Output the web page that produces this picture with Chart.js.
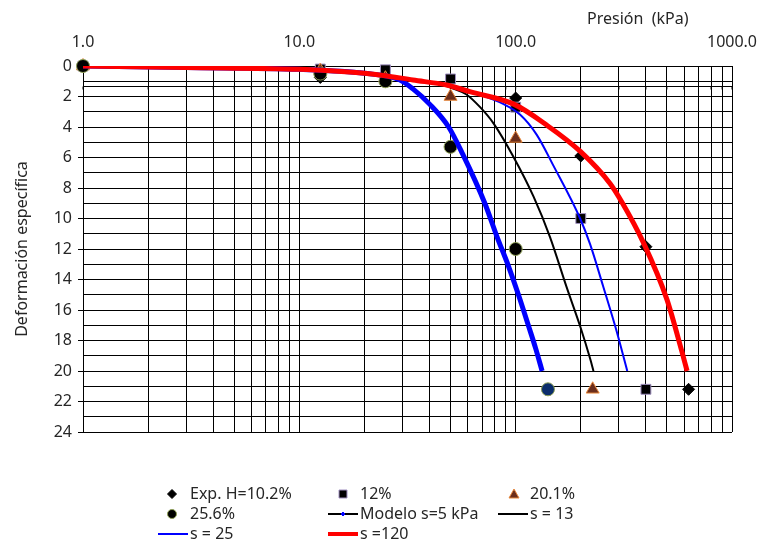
<!DOCTYPE html>
<html>
<head>
<meta charset="utf-8">
<script src="https://cdn.jsdelivr.net/npm/chart.js@4/dist/chart.umd.min.js"></script>
<style>
body { margin: 0; background: #fff; }
</style>
</head>
<body>
<canvas id="chart" width="760" height="545"></canvas>
<script>
// tick values of the log axis (top) and labelled decades
let gridTicks = [1,2,3,4,5,6,7,8,9,10,20,30,40,50,60,70,80,90,100,200,300,400,500,600,700,800,900,1000];
let decadeTicks = [1, 10, 100, 1000];

// experimental points (pressure kPa, specific deformation)
let p102 = [1, 12.5, 100, 200, 400, 630];
let d102 = [0, 0.75, 2.1, 5.9, 11.85, 21.2];
let p12 = [1, 12.5, 25, 50, 100, 200, 400];
let d12 = [0, 0.2, 0.25, 0.85, 2.7, 10.0, 21.2];
let p201 = [1, 12.5, 25, 50, 100, 227];
let d201 = [0, 0.3, 0.8, 2.0, 4.75, 21.2];
let p256 = [1, 12.5, 25, 50, 100, 141];
let d256 = [0, 0.5, 1.0, 5.3, 12.0, 21.2];

// model curves
let pS5 = [1, 3, 10, 20, 29, 33.5, 40, 49, 57, 72, 82, 92.5, 103, 115, 123.6, 132.5];
let dS5 = [0, 0.1, 0.22, 0.48, 0.9, 1.5, 2.5, 4.0, 5.8, 9.0, 11.2, 13.1, 15.0, 17.1, 18.5, 20];
let pS13 = [1, 3, 10, 20, 30, 45, 51, 59, 68.5, 79, 97.6, 121, 144, 172, 199, 221, 229];
let dS13 = [0, 0.1, 0.22, 0.48, 0.8, 1.2, 1.46, 1.85, 2.7, 3.76, 5.95, 8.57, 11.2, 14.5, 17.1, 19.2, 20];
let pS25 = [1, 3, 10, 20, 30, 48, 62, 88, 105, 125, 149, 198.6, 221, 253.7, 291, 328];
let dS25 = [0, 0.1, 0.22, 0.48, 0.8, 1.25, 1.7, 2.5, 3.2, 4.5, 6.5, 10.0, 11.7, 14.44, 17.25, 20];
let pS120 = [1, 3, 10, 15, 20, 24, 33.5, 48, 62, 98, 139, 199, 273, 309, 390, 500, 586, 620];
let dS120 = [0, 0.1, 0.22, 0.35, 0.48, 0.6, 0.92, 1.25, 1.7, 2.5, 3.87, 5.6, 7.7, 8.9, 11.6, 15.3, 18.7, 20];

const FONT = "'Noto Sans', 'DejaVu Sans', sans-serif";
const TXT = '#262626';

function pts(xs, ys) {
return xs.map((x, i) => ({ x: x, y: ys[i] }));
}

function lineSet(label, xs, ys, color, width, order) {
return {
label: label, data: pts(xs, ys), showLine: true, borderColor: color, backgroundColor: color,
borderWidth: width, pointRadius: 0, cubicInterpolationMode: 'monotone', order: order
};
}

function markSet(label, xs, ys, style, fill, edge, radius, order) {
return {
label: label, data: pts(xs, ys), showLine: false, pointStyle: style, pointRadius: radius,
pointBackgroundColor: fill, pointBorderColor: edge, pointBorderWidth: 1, order: order, clip: false
};
}

// markers in legend
function drawMark(ctx, kind, x, y, fill, edge, r) {
ctx.save();
ctx.fillStyle = fill;
ctx.strokeStyle = edge;
ctx.lineWidth = 1;
ctx.beginPath();
if (kind == 'diamond') {
ctx.moveTo(x, y - r); ctx.lineTo(x + r, y); ctx.lineTo(x, y + r); ctx.lineTo(x - r, y);
} else if (kind == 'square') {
ctx.rect(x - 4, y - 4, 8, 8);
} else if (kind == 'triangle') {
ctx.moveTo(x, y - 5); ctx.lineTo(x + 5, y + 4); ctx.lineTo(x - 5, y + 4);
} else {
ctx.arc(x, y, 4.5, 0, Math.PI * 2);
}
ctx.closePath();
ctx.fill();
ctx.stroke();
ctx.restore();
}

function drawLineKey(ctx, x1, x2, y, color, width) {
ctx.save();
ctx.strokeStyle = color;
ctx.lineWidth = width;
ctx.beginPath();
ctx.moveTo(x1, y); ctx.lineTo(x2, y);
ctx.stroke();
ctx.restore();
}

const decor = {
id: 'decor',
beforeDatasetsDraw(chart) {
// second axis line just under the top border
const ctx = chart.ctx, xs = chart.scales.x, ys = chart.scales.y;
const y = Math.round(ys.getPixelForValue(1.3)) + 0.5;
ctx.save();
ctx.strokeStyle = '#000';
ctx.lineWidth = 1;
ctx.beginPath();
ctx.moveTo(chart.chartArea.left, y);
ctx.lineTo(chart.chartArea.right, y);
gridTicks.forEach(v => {
const x = xs.getPixelForValue(v);
ctx.moveTo(x, y); ctx.lineTo(x, y + 3);
});
ctx.stroke();
ctx.restore();
},
afterDraw(chart) {
const ctx = chart.ctx;
ctx.save();
ctx.fillStyle = TXT;
ctx.font = '16px ' + FONT;
ctx.textBaseline = 'middle';
ctx.textAlign = 'left';
ctx.fillText('Presión  (kPa)', 587, 19);

// legend, three columns
drawMark(ctx, 'diamond', 172, 494, '#000', '#000', 4.5);
ctx.fillText('Exp. H=10.2%', 190, 494);
drawMark(ctx, 'square', 343, 494, '#000', '#a090c0');
ctx.fillText('12%', 360, 494);
drawMark(ctx, 'triangle', 514, 494, '#6b2e1c', '#e8873a');
ctx.fillText('20.1%', 530, 494);

drawMark(ctx, 'circle', 172, 514, '#000', '#8e9f55');
ctx.fillText('25.6%', 190, 514);
drawLineKey(ctx, 328, 358, 514, '#000', 2);
drawMark(ctx, 'diamond', 343, 514, '#0000ff', '#0000ff', 2);
ctx.fillStyle = TXT;
ctx.fillText('Modelo s=5 kPa', 360, 514);
drawLineKey(ctx, 498, 528, 514, '#000', 2);
ctx.fillText('s = 13', 530, 514);

drawLineKey(ctx, 158, 188, 534, '#0000ff', 2);
ctx.fillText('s = 25', 190, 534);
drawLineKey(ctx, 328, 358, 534, '#ff0000', 4);
ctx.fillText('s =120', 360, 534);
ctx.restore();
}
};

let circleFill = p256.map((v, i) => i == p256.length - 1 ? '#0b2d6b' : '#000');

let chart = new Chart(document.getElementById('chart').getContext('2d'), {
type: 'scatter',
data: {
datasets: [
lineSet('s =120', pS120, dS120, '#ff0000', 5, 0),
lineSet('s = 25', pS25, dS25, '#0000ff', 2, 1),
lineSet('s = 13', pS13, dS13, '#000000', 2, 2),
lineSet('Modelo s=5 kPa', pS5, dS5, '#0000ff', 5, 3),
markSet('25.6%', p256, d256, 'circle', circleFill, '#8e9f55', 6.5, 4),
markSet('20.1%', p201, d201, 'triangle', '#6b2e1c', '#e8873a', 7.5, 5),
markSet('12%', p12, d12, 'rect', '#000', '#a090c0', 7, 6),
markSet('Exp. H=10.2%', p102, d102, 'rectRot', '#000', '#000', 6, 7)
]
},
options: {
responsive: false,
animation: false,
layout: { padding: { top: 0, left: 0, right: 28, bottom: 113 } },
plugins: { legend: { display: false }, tooltip: { enabled: false } },
scales: {
x: {
type: 'logarithmic', position: 'top', min: 1, max: 1000,
afterBuildTicks: s => { s.ticks = gridTicks.map(v => ({ value: v })); },
afterFit: s => { s.height = 66; s.paddingLeft = 0; s.paddingRight = 0; },
ticks: {
autoSkip: false, maxRotation: 0, padding: 14, color: TXT, font: { family: FONT, size: 16 },
callback: v => decadeTicks.includes(v) ? v.toFixed(1) : ''
},
grid: { color: '#000', lineWidth: 1, drawTicks: false },
border: { color: '#000' }
},
y: {
reverse: true, min: 0, max: 24,
afterFit: s => { s.width = 83; s.paddingTop = 0; s.paddingBottom = 0; },
ticks: {
stepSize: 1, autoSkip: false, padding: 6, color: TXT, font: { family: FONT, size: 16 },
callback: v => v % 2 == 0 ? v : ''
},
grid: {
color: '#000', lineWidth: 1, tickLength: 5,
tickColor: c => (c.tick && c.tick.value % 2 == 0) ? '#000' : 'rgba(0,0,0,0)'
},
border: { color: '#000' },
title: { display: true, text: 'Deformación específica', color: TXT, font: { family: FONT, size: 16 }, padding: { top: 13, bottom: 0 } }
}
}
},
plugins: [decor]
});
</script>
</body>
</html>
